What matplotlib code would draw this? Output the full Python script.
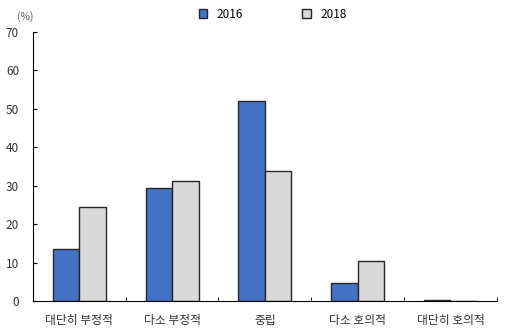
import numpy as np
import matplotlib.pyplot as plt

plt.rcParams['font.family'] = ['Noto Sans CJK KR', 'DejaVu Sans']
plt.rcParams['font.size'] = 8.5

categories = ['대단히 부정적', '다소 부정적', '중립', '다소 호의적', '대단히 호의적']
years = ['2016', '2018']
v2016 = [13.5, 29.4, 52.0, 4.8, 0.2]
v2018 = [24.5, 31.2, 33.8, 10.4, 0.0]

fig = plt.figure(figsize=(5.06, 3.29), dpi=100)
ax = fig.add_axes([0.065, 0.085, 0.917, 0.818])

x = np.arange(len(categories))
w = 0.285
ax.bar(x - w / 2, v2016, w, color='#4472C4', edgecolor='#262626', linewidth=1, label=years[0])
ax.bar(x + w / 2, v2018, w, color='#D9D9D9', edgecolor='#262626', linewidth=1, label=years[1])

ax.set_xlim(-0.5, len(categories) - 0.5)
ax.set_ylim(0, 70)
ax.set_yticks(range(0, 71, 10))
ax.set_xticks(x)
ax.set_xticklabels(categories, color='#333333')
ax.set_xticks(np.arange(-0.5, len(categories), 1), minor=True)
ax.tick_params(axis='x', which='major', length=0, pad=9)
ax.tick_params(axis='x', which='minor', direction='in', length=3)
ax.tick_params(axis='y', direction='in', length=3, pad=10, labelcolor='#333333')

for s in ['top', 'right']:
    ax.spines[s].set_visible(False)

ax.text(-0.035, 1.045, '(%)', transform=ax.transAxes, color='#555555', fontsize=7.5)
ax.legend(loc='upper center', bbox_to_anchor=(0.517, 1.13), ncol=2, frameon=False,
          handlelength=0.7, handleheight=0.7, columnspacing=5, fontsize=8.5)

plt.savefig('out.png', dpi=100)
